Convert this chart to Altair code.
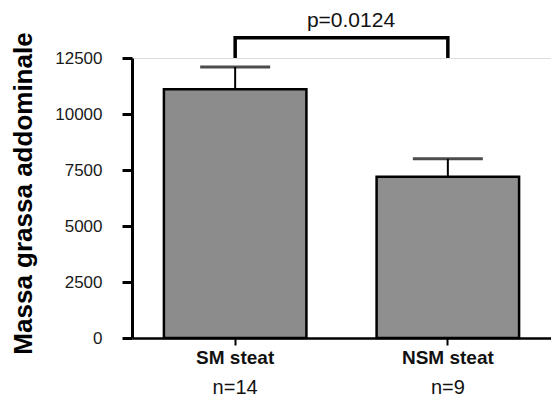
import altair as alt
import pandas as pd

groups = ["SM steat", "NSM steat"]
means = [11100, 7200]
upper = [12100, 8000]
n_text = ["n=14", "n=9"]
bar_fill = ["#8c8c8c", "#8f8f8f"]

bracket_x = ["SM steat", "SM steat", "NSM steat", "NSM steat"]
bracket_y = [12500, 13400, 13400, 12500]
bracket_order = [0, 1, 2, 3]
p_label = "p=0.0124"
p_y = 13900

FONT = "Liberation Sans"

df = pd.DataFrame({"group": groups, "mean": means, "upper": upper,
                   "n": n_text, "fill": bar_fill})
bdf = pd.DataFrame({"group": bracket_x, "by": bracket_y, "o": bracket_order})

xscale = alt.Scale(paddingInner=0.33, paddingOuter=0.15)
xenc = alt.X("group:N", sort=groups, scale=xscale,
             axis=alt.Axis(title=None, labelAngle=0, labelFont=FONT,
                           labelFontSize=19, labelFontWeight="bold",
                           labelColor="#111111", labelPadding=3,
                           tickSize=7, tickWidth=2, tickColor="black",
                           domainColor="black", domainWidth=2.5))
yscale = alt.Scale(domain=[0, 12500], nice=False)
yaxis = alt.Axis(values=[0, 2500, 5000, 7500, 10000, 12500],
                 title="Massa grassa addominale", titleFont=FONT,
                 titleFontSize=26, titleFontWeight="bold", titleColor="black",
                 titleX=-109, titleY=135, titleAlign="center",
                 titleBaseline="middle", titleAngle=270,
                 labelFont=FONT, labelFontSize=17, labelColor="#1a1a1a",
                 labelPadding=20, tickSize=10, tickWidth=3, tickColor="black",
                 domainColor="black", domainWidth=3, grid=False, format="d")

base = alt.Chart(df)

bars = base.mark_bar(stroke="black", strokeWidth=2.5).encode(
    x=xenc,
    y=alt.Y("mean:Q", scale=yscale, axis=yaxis),
    fill=alt.Fill("fill:N", scale=None),
)

stems = base.mark_rule(color="black", strokeWidth=2).encode(
    x=alt.X("group:N", sort=groups),
    y=alt.Y("mean:Q"),
    y2="upper:Q",
)

caps = base.mark_tick(color="black", size=70, thickness=3, orient="horizontal").encode(
    x=alt.X("group:N", sort=groups),
    y=alt.Y("upper:Q"),
)

bracket = alt.Chart(bdf).mark_line(color="black", strokeWidth=3.5,
                                    strokeJoin="miter", strokeCap="butt").encode(
    x=alt.X("group:N", sort=groups),
    y=alt.Y("by:Q"),
    order="o:Q",
)

ptext = alt.Chart(pd.DataFrame({"t": [p_label], "v": [p_y]})).mark_text(
    font=FONT, fontSize=21, color="#111111", baseline="alphabetic", align="center"
).encode(
    x=alt.value(219),
    y=alt.Y("v:Q"),
    text="t:N",
)

ntext = base.mark_text(font=FONT, fontSize=20, color="#111111",
                       baseline="middle", align="center").encode(
    x=alt.X("group:N", sort=groups),
    y=alt.value(330),
    text="n:N",
)

chart = alt.layer(bars, stems, caps, bracket, ptext, ntext).properties(
    width=419, height=280,
    autosize=alt.AutoSizeParams(type="none"),
    padding={"left": 132, "top": 58, "right": 0, "bottom": 60},
    background="white",
).configure_view(stroke=None).configure(font=FONT)

chart.save("out.html", embed_options={"renderer": "svg", "actions": False})
